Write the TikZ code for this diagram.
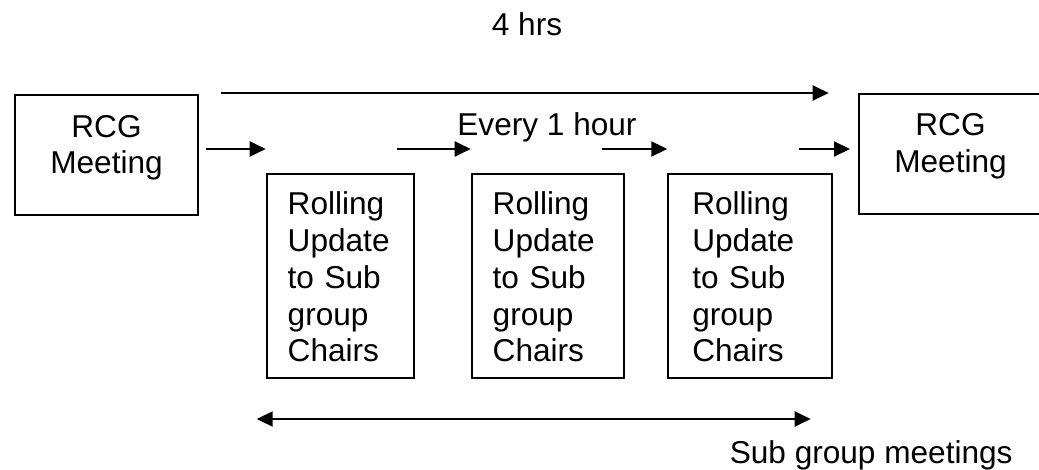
\documentclass[tikz,border=0pt]{standalone}
\usepackage{fontspec}
\setmainfont{Liberation Sans}
\usetikzlibrary{calc, arrows.meta}

\tikzset{
	meeting/.style={draw, line width=1pt, minimum width=91.5pt, minimum height=60pt, align=center, inner sep=0pt, text height=39.15pt, text depth=20.85pt},
	rolling/.style={draw, line width=1pt, minimum height=102pt, inner ysep=0pt, align=left, text height=20.5pt, text depth=81.5pt},
	flow/.style={line width=1pt, -{Triangle[length=8pt, width=7.5pt]}},
	span/.style={line width=1pt, {Triangle[length=8pt, width=7.5pt]}-{Triangle[length=8pt, width=7.5pt]}},
}

\begin{document}
\begin{tikzpicture}[x=0.5pt, y=-0.5pt, every node/.style={font=\fontsize{15.8pt}{18.35pt}\selectfont}]
		\useasboundingbox (0, 0) rectangle (1039, 470);

		% meetings at both ends
		\node[meeting] (rcgL) at (106.5, 155.5) {RCG\\Meeting};
		\node[meeting] (rcgR) at (950.5, 154) {RCG\\Meeting};

		% hourly updates
		\node[rolling, inner xsep=10.5pt, text width=52.8pt] (roll1) at (340.5, 276) {Rolling\\Update\\to Sub\\group\\Chairs};
		\node[rolling, inner xsep=10.5pt, text width=55.3pt] (roll2) at (548, 276) {Rolling\\Update\\to Sub\\group\\Chairs};
		\node[rolling, inner xsep=12pt, text width=57.7pt] (roll3) at (750, 276) {Rolling\\Update\\to Sub\\group\\Chairs};

		% step arrows
		\coordinate (lane) at (0, 149);
		\draw[flow] ($(rcgL.east |- lane)+(7, 0)$) -- (roll1.west |- lane);
		\draw[flow] ($(roll1.east |- lane)+(-18, 0)$) -- (roll2.west |- lane);
		\draw[flow] ($(roll2.east |- lane)+(-23, 0)$) -- (roll3.west |- lane);
		\draw[flow] ($(roll3.east |- lane)+(-34, 0)$) -- ($(rcgR.west |- lane)+(-8, 0)$);

		% overall span and sub group span
		\draw[flow] ($(rcgL.east |- rcgR.north)+(22, 0)$) -- ($(roll3.east |- rcgR.north)+(-4, 0)$);
		\draw[span] ($(roll1.south west)+(-9, 40)$) -- ($(roll3.south east)+(-22, 40)$);

		% labels
		\node[anchor=base, inner sep=0pt] (hrs) at (527, 36) {4 hrs};
		\node[anchor=base west, inner sep=0pt] (hourly) at (457, 136) {Every 1 hour};
		\node[anchor=base east, inner sep=0pt] (subgroups) at (1013, 463) {Sub group meetings};
	\end{tikzpicture}
\end{document}
